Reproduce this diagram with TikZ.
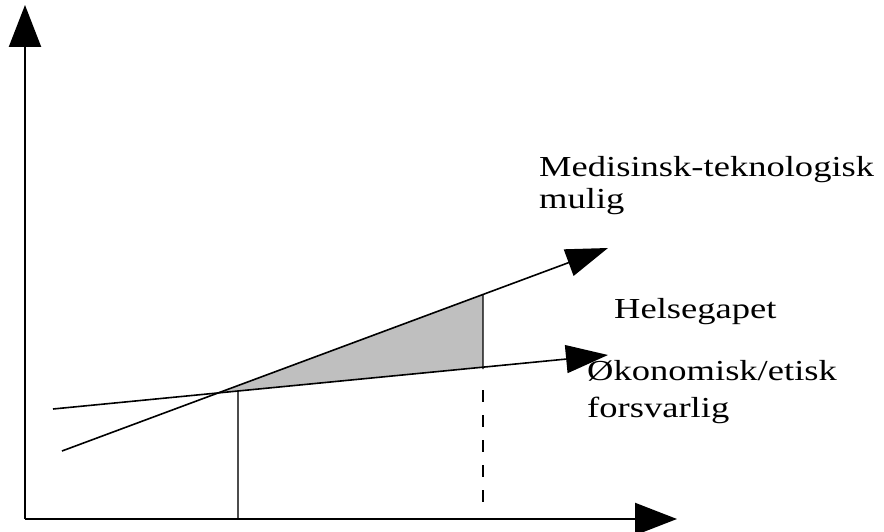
\documentclass[tikz,border=0pt]{standalone}
\usepackage{fontspec}
\setmainfont{Liberation Serif}[FakeStretch=1.26]
\usetikzlibrary{arrows.meta,calc,intersections}
\tikzset{
  axis/.style={line width=2.2pt,-{Triangle[length=42pt,width=32pt]}},
  curve/.style={line width=1.6pt,-{Triangle[length=42pt,width=28pt]}},
  guide/.style={line width=1.3pt,draw=black!70},
  guidedash/.style={line width=1.3pt,dash pattern=on 12pt off 13pt},
  gap/.style={fill=black!25},
  lbl/.style={anchor=base west,inner sep=0pt,font=\fontsize{29}{32}\selectfont}
}
\begin{document}
\begin{tikzpicture}[x=1pt,y=-1pt]
  \useasboundingbox (0,0) rectangle (884,532);

  % axes
  \coordinate (O) at (25,519);
  \coordinate (Ytip) at (25,5);
  \coordinate (Xtip) at (677,519);

  % the two trend lines
  \coordinate (U0) at (62,451);
  \coordinate (U1) at (608,248);
  \coordinate (L0) at (53,409);
  \coordinate (L1) at (608,355);

  \path[name path=up] (U0) -- (U1);
  \path[name path=low] (L0) -- (L1);
  \path[name intersections={of=up and low, by=P}];

  % points where the vertical markers meet the lines
  \coordinate (A) at ($(U0)!0.77106!(U1)$);
  \coordinate (B) at ($(L0)!0.77477!(L1)$);
  \coordinate (C) at ($(L0)!0.33333!(L1)$);
  \coordinate (Cb) at (C |- O);
  \coordinate (D1) at (483,390);
  \coordinate (D2) at (483,503);

  % shaded gap between the lines
  \fill[gap] (P) -- (A) -- (B) -- cycle;

  % vertical markers
  \draw[guide] (C) -- (Cb);
  \draw[line width=1.3pt] (A) -- ($(B)+(0,2)$);
  \draw[guidedash] (D1) -- (D2);

  % lines with arrows
  \draw[curve] (U0) -- (U1);
  \draw[curve] (L0) -- (L1);

  \draw[axis] (O) -- (Ytip);
  \draw[axis] (O) -- (Xtip);

  % labels
  \node[lbl] (t1) at (539,176) {Medisinsk-teknologisk};
  \node[lbl] (t2) at (539,208) {mulig};
  \node[lbl] (t3) at (614,318) {Helsegapet};
  \node[lbl] (t4) at (587,380) {Økonomisk/etisk};
  \node[lbl] (t5) at (587,417) {forsvarlig};
\end{tikzpicture}
\end{document}
